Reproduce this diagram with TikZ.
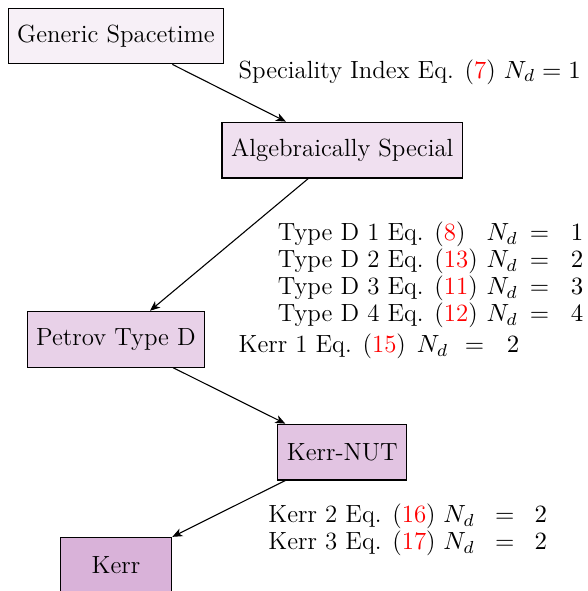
\RequirePackage{fix-cm}
\documentclass[tikz,border=0pt]{standalone}
\usetikzlibrary{arrows.meta}
\begin{document}
\begin{tikzpicture}[x=1cm, y=1cm, >={Stealth[length=4.6pt, width=3.8pt, inset=1.3pt]}, line width=0.5pt,
    font=\fontsize{11.4}{12.4}\selectfont,
    box/.style={draw, rectangle, minimum height=0.9cm, minimum width=1.8cm, inner xsep=4.2pt},
    lbl/.style={anchor=west, inner sep=0pt}]
        \useasboundingbox (-1.87,0.58) rectangle (7.60,-8.95);
        \node[box, fill=violet!6] (gen) at (0,0){Generic Spacetime};
        \node[box, fill=violet!12] (alg) at (3.65,-1.84){Algebraically Special};
        \node[box, fill=violet!18] (petrov) at (0,-4.89){Petrov Type D};
        \node[box, fill=violet!23] (kn) at (3.65,-6.71){Kerr-NUT};
        \node[box, fill=violet!30] (kerr) at (0,-8.53){Kerr};
        \draw[->] (gen) -- (alg);
        \draw[->] (alg) -- (petrov);
        \draw[->] (petrov) -- (kn);
        \draw[->] (kn) -- (kerr);
        % labels
        \node[lbl] (spec) at (1.97,-0.58){Speciality Index Eq. (\textcolor{red}{7}) $N_d = 1$};
        \node[lbl] (typed) at (2.60,-3.865){\begin{tabular}{@{}l@{\hspace{4pt}}l@{\hspace{5.5pt}}c@{\hspace{10pt}}l@{}}
            Type D 1 Eq. (\textcolor{red}{8}) & $N_d$ & $=$ & $1$\\
            Type D 2 Eq. (\textcolor{red}{13}) & $N_d$ & $=$ & $2$\\
            Type D 3 Eq. (\textcolor{red}{11}) & $N_d$ & $=$ & $3$\\
            Type D 4 Eq. (\textcolor{red}{12}) & $N_d$ & $=$ & $4$
        \end{tabular}};
        \node[lbl] (kerr1) at (1.97,-5.02){\begin{tabular}{@{}l@{\hspace{5pt}}l@{\hspace{7.6pt}}c@{\hspace{10.5pt}}l@{}}
            Kerr 1 Eq. (\textcolor{red}{15}) & $N_d$ & $=$ & $2$
        \end{tabular}};
        \node[lbl] (kerr23) at (2.45,-7.98){\begin{tabular}{@{}l@{\hspace{3.5pt}}l@{\hspace{9.3pt}}c@{\hspace{9.3pt}}l@{}}
            Kerr 2 Eq. (\textcolor{red}{16}) & $N_d$ & $=$ & $2$\\
            Kerr 3 Eq. (\textcolor{red}{17}) & $N_d$ & $=$ & $2$
        \end{tabular}};
\end{tikzpicture}
\end{document}
